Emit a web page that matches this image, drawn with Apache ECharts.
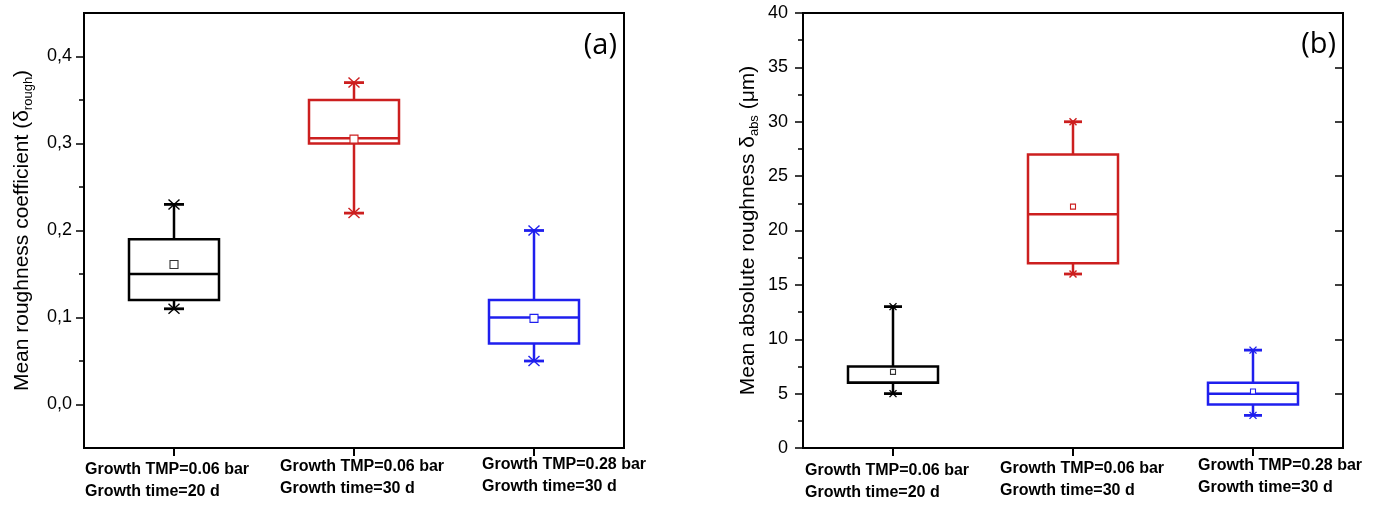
<!DOCTYPE html>
<html><head><meta charset="utf-8">
<script src="https://cdn.jsdelivr.net/npm/echarts@6/dist/echarts.min.js"></script>
<style>html,body{margin:0;padding:0;background:#fff;}#c{width:1381px;height:505px;}</style>
</head><body><div id="c"></div><script>
// ---- data ----
const categories = [
  'Growth TMP=0.06 bar\nGrowth time=20 d',
  'Growth TMP=0.06 bar\nGrowth time=30 d',
  'Growth TMP=0.28 bar\nGrowth time=30 d'
];
// panel (a): mean roughness coefficient
const roughLow    = [0.11, 0.22, 0.05];
const roughQ1     = [0.12, 0.30, 0.07];
const roughMedian = [0.15, 0.306, 0.10];
const roughQ3     = [0.19, 0.35, 0.12];
const roughHigh   = [0.23, 0.37, 0.20];
const roughMean   = [0.161, 0.305, 0.099];
const roughTicks  = [0, 0.1, 0.2, 0.3, 0.4];
const roughMinorTicks = [0.05, 0.15, 0.25, 0.35];
// panel (b): mean absolute roughness (µm)
const absLow    = [5, 16, 3];
const absQ1     = [6, 17, 4];
const absMedian = [6, 21.5, 5];
const absQ3     = [7.5, 27, 6];
const absHigh   = [13, 30, 9];
const absMean   = [7, 22.2, 5.2];

// ---- styles / layout ----
const colors = ['#000000', '#cc1f1f', '#1f1fee'];
const labelFont = 'Liberation Sans, Arial, sans-serif';
const panelStyle = [
  {capHalf: 10, xw: 5.5, xh: 5, meanHalf: 4, boxRatio: 0.5, lw: 2.5},
  {capHalf: 9, xw: 3.5, xh: 3.5, meanHalf: 2.5, boxRatio: 0.5, lw: 2.5}
];
const labelShift = [[-89, -74, -52], [-88, -73, -55]];
const labelTop = [[459, 456, 454], [460, 458, 455]];

function boxData(lo, q1, md, q3, hi, mn) {
  return categories.map((c, i) => [i, lo[i], q1[i], md[i], q3[i], hi[i], mn[i]]);
}

function makeRender(st) {
  return function (params, api) {
    const i = api.value(0);
    const cx = api.coord([i, api.value(3)])[0];
    const bw = api.size([1, 0])[0] * st.boxRatio;
    const y = k => api.coord([i, api.value(k)])[1];
    const yLo = y(1), yQ1 = y(2), yMd = y(3), yQ3 = y(4), yHi = y(5), yMn = y(6);
    const c = colors[i];
    const ls = {stroke: c, lineWidth: st.lw, fill: null};
    const thin = {stroke: c, lineWidth: 1.4, fill: null};
    const line = (x1, y1, x2, y2, s) => ({type: 'line', shape: {x1, y1, x2, y2}, style: s});
    const ch = [
      {type: 'rect', shape: {x: cx - bw / 2, y: yQ3, width: bw, height: yQ1 - yQ3}, style: {stroke: c, lineWidth: st.lw, fill: 'none'}},
      line(cx - bw / 2, yMd, cx + bw / 2, yMd, ls),
      line(cx, yQ3, cx, yHi, ls),
      line(cx, yQ1, cx, yLo, ls),
      line(cx - st.capHalf, yHi, cx + st.capHalf, yHi, {stroke: c, lineWidth: 2.8}),
      line(cx - st.capHalf, yLo, cx + st.capHalf, yLo, {stroke: c, lineWidth: 2.8}),
      line(cx - st.xw, yHi - st.xh, cx + st.xw, yHi + st.xh, thin),
      line(cx - st.xw, yHi + st.xh, cx + st.xw, yHi - st.xh, thin),
      line(cx - st.xw, yLo - st.xh, cx + st.xw, yLo + st.xh, thin),
      line(cx - st.xw, yLo + st.xh, cx + st.xw, yLo - st.xh, thin),
      {type: 'rect', shape: {x: cx - st.meanHalf, y: yMn - st.meanHalf, width: 2 * st.meanHalf, height: 2 * st.meanHalf},
        style: {stroke: i === 0 ? '#333' : c, lineWidth: 1.1, fill: '#fff'}}
    ];
    return {type: 'group', children: ch};
  };
}

const axisLineStyle = {color: '#000', width: 2};
function xAxisCfg(gi) {
  return {
    gridIndex: gi, type: 'category', data: categories, boundaryGap: true, position: 'bottom',
    axisLine: {show: true, onZero: false, lineStyle: axisLineStyle},
    axisTick: {show: true, alignWithLabel: true, length: 8, lineStyle: {color: '#000', width: 2}},
    axisLabel: {show: false}, splitLine: {show: false}
  };
}
const nameRich = {
  t: {fontSize: 21, fontFamily: labelFont, color: '#000', lineHeight: 26},
  s: {fontSize: 13, fontFamily: labelFont, color: '#000', lineHeight: 14, verticalAlign: 'bottom'}
};

const option = {
  animation: false,
  backgroundColor: '#fff',
  grid: [
    {left: 84, top: 13, width: 540, height: 435, show: true, borderColor: '#000', borderWidth: 2, backgroundColor: 'transparent'},
    {left: 803, top: 13, width: 540, height: 435, show: true, borderColor: '#000', borderWidth: 2, backgroundColor: 'transparent'}
  ],
  xAxis: [xAxisCfg(0), xAxisCfg(1)],
  yAxis: [
    {
      gridIndex: 0, type: 'value', min: -0.05, max: 0.45, interval: 0.05, position: 'left',
      axisLine: {show: true, onZero: false, lineStyle: axisLineStyle},
      axisTick: {show: true, length: 8, customValues: roughTicks, lineStyle: {color: '#000', width: 1.5}},
      axisLabel: {
        customValues: roughTicks, fontSize: 18, color: '#000', fontFamily: labelFont, margin: 12,
        formatter: v => (Math.abs(v * 10 - Math.round(v * 10)) < 1e-6 && v > -0.01 && v < 0.41) ? v.toFixed(1).replace('.', ',') : ''
      },
      splitLine: {show: false},
      name: '{t|Mean roughness coefficient (δ}{s|rough}{t|)}', nameLocation: 'middle', nameGap: 49,
      nameTextStyle: {rich: nameRich}
    },
    {
      gridIndex: 0, type: 'value', min: -0.05, max: 0.45, interval: 0.05, position: 'left', offset: 0,
      axisLine: {show: false, onZero: false},
      axisTick: {show: true, length: 5, customValues: roughMinorTicks, lineStyle: {color: '#000', width: 1.5}},
      axisLabel: {show: false}, splitLine: {show: false}
    },
    {
      gridIndex: 1, type: 'value', min: 0, max: 40, interval: 5, position: 'left',
      axisLine: {show: true, onZero: false, lineStyle: axisLineStyle},
      axisTick: {show: true, length: 8, lineStyle: {color: '#000', width: 1.5}},
      minorTick: {show: true, splitNumber: 2, length: 5, lineStyle: {color: '#000', width: 1.5}},
      axisLabel: {fontSize: 18, color: '#000', fontFamily: labelFont, margin: 15},
      splitLine: {show: false}, minorSplitLine: {show: false},
      name: '{t|Mean absolute roughness δ}{s|abs}{t| (μm)}', nameLocation: 'middle', nameGap: 42,
      nameTextStyle: {rich: nameRich}
    },
    {
      gridIndex: 1, type: 'value', min: 0, max: 40, interval: 5, position: 'right',
      axisLine: {show: true, onZero: false, lineStyle: axisLineStyle},
      axisTick: {show: true, inside: true, length: 8, lineStyle: {color: '#000', width: 1.5}},
      axisLabel: {show: false}, splitLine: {show: false}
    }
  ],
  series: [
    {type: 'custom', xAxisIndex: 0, yAxisIndex: 0, clip: false,
      renderItem: makeRender(panelStyle[0]),
      encode: {x: 0, y: [1, 2, 3, 4, 5, 6]},
      data: boxData(roughLow, roughQ1, roughMedian, roughQ3, roughHigh, roughMean)},
    {type: 'custom', xAxisIndex: 1, yAxisIndex: 2, clip: false,
      renderItem: makeRender(panelStyle[1]),
      encode: {x: 0, y: [1, 2, 3, 4, 5, 6]},
      data: boxData(absLow, absQ1, absMedian, absQ3, absHigh, absMean)}
  ]
};

const chart = echarts.init(document.getElementById('c'), null, {renderer: 'canvas'});
chart.setOption(option);

const g = [
  {type: 'text', x: 617, y: 46, style: {text: '(a)', font: '29px "Open Sans", sans-serif', fill: '#000', textAlign: 'right', textVerticalAlign: 'middle'}},
  {type: 'text', x: 1336, y: 45, style: {text: '(b)', font: '29px "Open Sans", sans-serif', fill: '#000', textAlign: 'right', textVerticalAlign: 'middle'}}
];
[0, 1].forEach(gi => {
  categories.forEach((cat, i) => {
    const p = chart.convertToPixel({gridIndex: gi}, [i, 0]);
    g.push({type: 'text', x: p[0] + labelShift[gi][i], y: labelTop[gi][i],
      style: {text: cat, font: 'bold 16px "Liberation Sans", Arial, sans-serif', lineHeight: 22, fill: '#000', textAlign: 'left', textVerticalAlign: 'top'}});
  });
});
chart.setOption({graphic: g});
</script></body></html>
